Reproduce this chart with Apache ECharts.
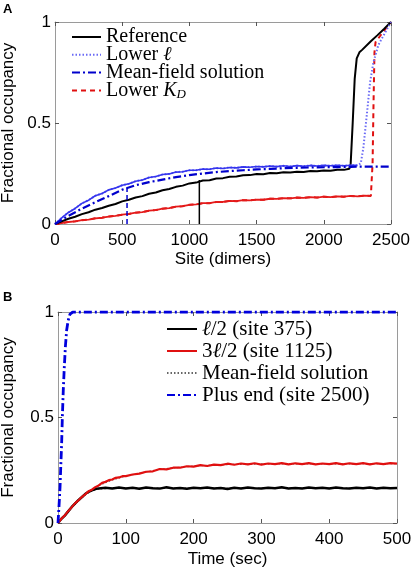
<!DOCTYPE html>
<html><head><meta charset="utf-8">
<script src="https://cdn.jsdelivr.net/npm/echarts@6/dist/echarts.min.js"></script>
<style>html,body{margin:0;padding:0;background:#fff}#c{width:414px;height:572px}</style>
</head><body><div id="c"></div>
<script>
// ---------- Panel A data: [site (dimers), fractional occupancy] ----------
const refA = [[0,0],[50,0.013],[100,0.026],[150,0.036],[200,0.049],[250,0.058],[300,0.071],[350,0.079],[400,0.09],[450,0.099],[500,0.112],[550,0.12],[600,0.131],[650,0.138],[700,0.15],[750,0.156],[800,0.167],[850,0.173],[900,0.184],[950,0.19],[1000,0.201],[1050,0.205],[1100,0.215],[1150,0.217],[1200,0.225],[1250,0.227],[1300,0.234],[1350,0.235],[1400,0.241],[1450,0.242],[1500,0.247],[1550,0.246],[1600,0.252],[1650,0.251],[1700,0.256],[1750,0.255],[1800,0.259],[1850,0.258],[1900,0.262],[1950,0.261],[2000,0.265],[2050,0.264],[2100,0.269],[2150,0.268],[2190,0.274],[2200,0.3],[2215,0.5],[2230,0.72],[2245,0.82],[2265,0.85],[2285,0.862],[2350,0.905],[2400,0.935],[2450,0.967],[2500,1]];
const refMarkerA = [[1074,0],[1074,0.218]];
const lowerEllA = [[0,0],[50,0.03],[100,0.057],[150,0.077],[200,0.102],[250,0.118],[300,0.14],[350,0.151],[400,0.169],[450,0.178],[500,0.192],[550,0.199],[600,0.212],[650,0.218],[700,0.23],[750,0.235],[800,0.245],[850,0.248],[900,0.257],[950,0.259],[1000,0.266],[1050,0.266],[1100,0.272],[1150,0.271],[1200,0.277],[1250,0.275],[1300,0.28],[1350,0.278],[1400,0.283],[1450,0.281],[1500,0.285],[1550,0.283],[1600,0.287],[1650,0.284],[1700,0.288],[1750,0.285],[1800,0.289],[1850,0.286],[1900,0.29],[1950,0.287],[2000,0.29],[2050,0.288],[2100,0.291],[2150,0.288],[2200,0.291],[2250,0.29],[2275,0.3],[2294,0.375],[2320,0.54],[2344,0.7],[2369,0.8],[2406,0.886],[2450,0.94],[2500,1]];
const meanFieldA = [[0,0],[100,0.04],[200,0.076],[300,0.108],[400,0.138],[500,0.17],[600,0.192],[700,0.207],[800,0.22],[900,0.232],[1000,0.242],[1100,0.25],[1200,0.257],[1300,0.262],[1400,0.266],[1500,0.27],[1600,0.273],[1700,0.276],[1800,0.278],[1900,0.28],[2000,0.281],[2100,0.282],[2200,0.283],[2300,0.284],[2400,0.284],[2500,0.284]];
const meanMarkerA = [[536,0],[536,0.18]];
const lowerKdA = [[0,0],[50,0.005],[100,0.01],[150,0.013],[200,0.019],[250,0.022],[300,0.028],[350,0.031],[400,0.037],[450,0.04],[500,0.046],[550,0.05],[600,0.056],[650,0.059],[700,0.066],[750,0.069],[800,0.076],[850,0.079],[900,0.086],[950,0.088],[1000,0.095],[1050,0.097],[1100,0.103],[1150,0.103],[1200,0.109],[1250,0.109],[1300,0.114],[1350,0.113],[1400,0.118],[1450,0.117],[1500,0.121],[1550,0.12],[1600,0.125],[1650,0.124],[1700,0.128],[1750,0.127],[1800,0.131],[1850,0.129],[1900,0.133],[1950,0.131],[2000,0.135],[2050,0.133],[2100,0.137],[2150,0.135],[2200,0.139],[2250,0.137],[2300,0.14],[2350,0.139],[2358,0.145],[2363,0.3],[2370,0.6],[2377,0.85],[2385,0.9],[2440,0.95],[2500,1]];
const namesA = ['Reference','Lower ℓ','Mean-field solution','Lower K_D'];
const xTicksA = {min:0, max:2500, interval:500};
const yTicks = {min:0, max:1, interval:0.5};

// ---------- Panel B data: [time (sec), fractional occupancy] ----------
const site375B = [[0,0],[5,0.02],[10,0.035],[15,0.055],[20,0.075],[25,0.092],[30,0.108],[35,0.122],[40,0.137],[45,0.148],[50,0.155],[55,0.161],[60,0.164],[70,0.167],[80,0.163],[90,0.168],[100,0.164],[110,0.167],[120,0.162],[130,0.168],[140,0.165],[150,0.163],[160,0.169],[170,0.164],[180,0.166],[190,0.162],[200,0.167],[210,0.165],[220,0.168],[230,0.163],[240,0.166],[250,0.161],[260,0.167],[270,0.164],[280,0.168],[290,0.165],[300,0.163],[310,0.167],[320,0.165],[330,0.169],[340,0.164],[350,0.166],[360,0.163],[370,0.168],[380,0.165],[390,0.167],[400,0.164],[410,0.168],[420,0.165],[430,0.163],[440,0.167],[450,0.165],[460,0.168],[470,0.164],[480,0.167],[490,0.165],[500,0.166]];
const site1125B = [[0,0],[5,0.02],[10,0.036],[15,0.056],[20,0.074],[25,0.093],[30,0.107],[35,0.123],[40,0.136],[45,0.15],[50,0.158],[55,0.17],[60,0.178],[65,0.19],[70,0.195],[75,0.203],[80,0.206],[85,0.214],[90,0.216],[95,0.222],[100,0.222],[110,0.23],[120,0.234],[130,0.243],[140,0.245],[150,0.256],[160,0.254],[170,0.262],[180,0.262],[190,0.269],[200,0.267],[210,0.274],[220,0.27],[230,0.277],[240,0.274],[250,0.281],[260,0.276],[270,0.282],[280,0.278],[290,0.283],[300,0.277],[310,0.282],[320,0.279],[330,0.284],[340,0.278],[350,0.283],[360,0.279],[370,0.284],[380,0.278],[390,0.282],[400,0.279],[410,0.284],[420,0.278],[430,0.283],[440,0.279],[450,0.284],[460,0.278],[470,0.283],[480,0.279],[490,0.284],[500,0.281]];
const meanField375B = [[0,0],[10,0.035],[20,0.072],[30,0.105],[40,0.133],[50,0.152],[60,0.161],[80,0.165],[500,0.165]];
const meanField1125B = [[0,0],[20,0.073],[40,0.135],[60,0.177],[80,0.204],[100,0.222],[150,0.255],[200,0.27],[250,0.277],[300,0.28],[500,0.281]];
const plusEndB = [[0,0],[1.5,0.08],[3,0.17],[4,0.26],[5.4,0.38],[6.4,0.5],[7.8,0.63],[9.3,0.74],[11,0.84],[12.8,0.915],[15,0.96],[17.7,0.99],[22,1],[500,1]];
const namesB = ['ℓ/2 (site 375)','3ℓ/2 (site 1125)','Mean-field solution ','Plus end (site 2500)'];
const xTicksB = {min:0, max:500, interval:100};

const SANS = 'Liberation Sans';
const SERIF = 'Liberation Serif';
const FRAME = '#9a9a9a';

function richName(n){
  if (n === 'Lower ℓ') return 'Lower {i|ℓ}';
  if (n === 'Lower K_D') return 'Lower {i|K}{sub|D}';
  if (n === 'ℓ/2 (site 375)') return '{i|ℓ}/2 (site 375)';
  if (n === '3ℓ/2 (site 1125)') return '3{i|ℓ}/2 (site 1125)';
  return n;
}
function mkX(grid, t, pos, name, gap){
  return Object.assign({type:'value', gridIndex:grid, position:pos,
    axisLine:{show:true, onZero:false, lineStyle:{color:FRAME,width:1}},
    axisTick:{show:true, inside:true, length:4, lineStyle:{color:'#555'}},
    axisLabel:{show:pos==='bottom', margin:8, color:'#000', fontFamily:SANS, fontSize:17,
      formatter:function(v){return String(v);}},
    splitLine:{show:false},
    name: name||'', nameLocation:'middle', nameGap:gap||0,
    nameTextStyle:{color:'#000', fontFamily:SANS, fontSize:17}}, t);
}
function mkY(grid, pos, name, gap){
  return Object.assign({type:'value', gridIndex:grid, position:pos,
    axisLine:{show:true, onZero:false, lineStyle:{color:FRAME,width:1}},
    axisTick:{show:true, inside:true, length:4, lineStyle:{color:'#555'}},
    axisLabel:{show:pos==='left', margin:4, color:'#000', fontFamily:SANS, fontSize:17,
      formatter:function(v){return String(v);}},
    splitLine:{show:false},
    name: name||'', nameLocation:'middle', nameGap:gap||0,
    nameTextStyle:{color:'#000', fontFamily:SANS, fontSize:17}}, yTicks);
}
function line(name, data, xi, yi, color, width, type, z){
  return {name:name, type:'line', data:data, xAxisIndex:xi, yAxisIndex:yi,
    symbol:'none', animation:false, z:z||2,
    lineStyle:{color:color, width:width, type:type||'solid'}, itemStyle:{color:color}};
}
const legendRich = {
  i:{fontFamily:SERIF, fontStyle:'italic'},
  sub:{fontFamily:SERIF, fontStyle:'italic', fontSize:13, padding:[9,0,0,0]}
};
const legendItemStyle = {color:'transparent', borderColor:'transparent', borderWidth:0, opacity:0};

const chart = echarts.init(document.getElementById('c'), null, {renderer:'canvas'});
chart.setOption({
  animation:false,
  backgroundColor:'#fff',
  grid:[
    {left:55, top:22, width:336, height:202, show:false, containLabel:false, outerBoundsMode:'none'},
    {left:58, top:312, width:339, height:211, show:false, containLabel:false, outerBoundsMode:'none'}
  ],
  xAxis:[
    mkX(0, xTicksA, 'bottom', 'Site (dimers)', 27),
    mkX(0, xTicksA, 'top'),
    mkX(1, xTicksB, 'bottom', 'Time (sec)', 28),
    mkX(1, xTicksB, 'top')
  ],
  yAxis:[
    mkY(0, 'left', 'Fractional occupancy', 38),
    mkY(0, 'right'),
    mkY(1, 'left', 'Fractional occupancy', 41),
    mkY(1, 'right')
  ],
  legend:[
    {data:namesA, orient:'vertical', left:66, top:22, itemWidth:29, itemHeight:10, itemGap:-2.2,
     itemStyle:legendItemStyle,
     formatter:richName, textStyle:{fontFamily:SERIF, fontSize:20, lineHeight:17, color:'#000', rich:legendRich},
     selectedMode:false},
    {data:namesB, orient:'vertical', left:161, top:313, itemWidth:30, itemHeight:10, itemGap:0,
     itemStyle:legendItemStyle,
     formatter:richName, textStyle:{fontFamily:SERIF, fontSize:21, lineHeight:22, color:'#000', rich:legendRich},
     selectedMode:false}
  ],
  graphic:[
    {type:'text', left:3, top:3, style:{text:'A', font:'bold 13px "Liberation Sans"', fill:'#000'}},
    {type:'text', left:3, top:291, style:{text:'B', font:'bold 13px "Liberation Sans"', fill:'#000'}}
  ],
  series:[
    // Panel A
    line('Lower K_D', lowerKdA, 0, 0, '#e01010', 2, [5,4], 3),
    line('kd-noise', lowerKdA.slice(0, 48), 0, 0, '#e41a1a', 1.8, 'solid', 3),
    line('Reference', refA, 0, 0, '#000', 2, 'solid', 4),
    line('ref-marker', refMarkerA, 0, 0, '#000', 1.5, 'solid', 4),
    line('Lower ℓ', lowerEllA, 0, 0, '#6a6af5', 2, [1.5,2], 5),
    line('ell-noise', lowerEllA.slice(0, 46), 0, 0, '#3535ee', 1.6, 'solid', 5),
    line('Mean-field solution', meanFieldA, 0, 0, '#0000cc', 2.2, [8,3,2,3], 6),
    line('mf-marker', meanMarkerA, 0, 0, '#0000cc', 1.5, [5,3], 6),
    // Panel B
    line('Mean-field solution ', meanField375B, 2, 2, '#666', 1.2, [1.5,2], 1),
    line('mf-1125', meanField1125B, 2, 2, '#666', 1.2, [1.5,2], 1),
    line('ℓ/2 (site 375)', site375B, 2, 2, '#000', 2.5, 'solid', 3),
    line('3ℓ/2 (site 1125)', site1125B, 2, 2, '#e01010', 2.2, 'solid', 4),
    line('Plus end (site 2500)', plusEndB, 2, 2, '#0000dd', 2.8, [8,3,2,3], 5)
  ]
});
</script>
</body></html>
